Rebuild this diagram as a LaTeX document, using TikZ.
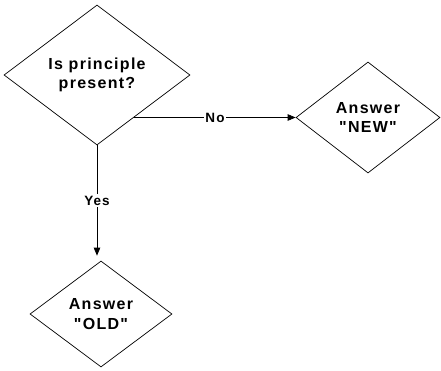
\documentclass[tikz,border=0pt]{standalone}
\usepackage{fontspec}
\setmainfont{Liberation Sans}[LetterSpace=8,Ligatures=TeXOff]
\usetikzlibrary{shapes.geometric,arrows.meta,calc}
\tikzset{
  dia/.style={draw, diamond, inner sep=0pt, line width=0.7pt, align=center,
    font=\bfseries\fontsize{16}{19.5}\selectfont},
  conn/.style={line width=0.7pt, -{Triangle[length=8pt,width=6.5pt]}},
  lbl/.style={fill=white, inner sep=1.5pt, font=\bfseries\fontsize{13.5}{15}\selectfont}
}
\begin{document}
\begin{tikzpicture}[x=1pt,y=1pt]
\useasboundingbox (0,0) rectangle (441,370);
\node[dia, minimum width=186pt, minimum height=140pt] (d1) at (97,295) {Is principle\\present?};
\node[dia, minimum width=144pt, minimum height=111pt] (d2) at (368,252.5) {Answer\\"NEW"};
\node[dia, minimum width=142pt, minimum height=106pt] (d3) at (101,56) {Answer\\"OLD"};
\coordinate (ns) at ($(d1.east)!0.6!(d1.south)$);
\draw[conn] (ns |- d2.west) -- node[lbl] {No} (d2.west);
\coordinate (ye) at ($(d1.south |- d3.north)+(0,5)$);
\draw[conn] (d1.south) -- node[lbl] {Yes} (ye);
\end{tikzpicture}
\end{document}
